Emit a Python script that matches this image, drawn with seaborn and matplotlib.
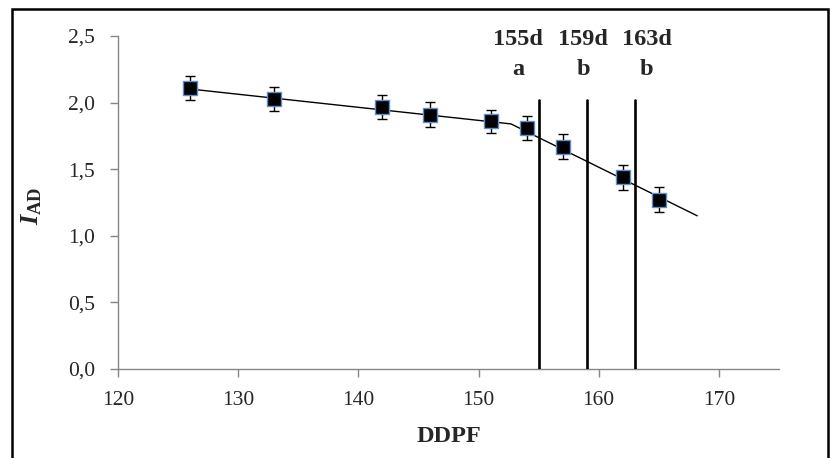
import matplotlib
matplotlib.use("Agg")
import matplotlib.pyplot as plt
import seaborn as sns
import pandas as pd
from matplotlib.patches import Rectangle

# ---- data ----
ddpf = [126, 133, 142, 146, 151, 154, 157, 162, 165]
iad = [2.11, 2.03, 1.97, 1.91, 1.86, 1.81, 1.67, 1.44, 1.27]
iad_err = [0.09, 0.09, 0.09, 0.095, 0.085, 0.09, 0.095, 0.095, 0.095]
trend_x = [126.2, 152.7, 168.2]
trend_y = [2.10, 1.84, 1.15]
vline_x = [155, 159, 163]
vline_top = 2.02
vline_days = ["155d", "159d", "163d"]
vline_groups = ["a", "b", "b"]
xticks = [120, 130, 140, 150, 160, 170]
yticks = [0.0, 0.5, 1.0, 1.5, 2.0, 2.5]
ytick_labels = ["0,0", "0,5", "1,0", "1,5", "2,0", "2,5"]

sns.set_theme(style="white")
plt.rcParams["font.family"] = ["Liberation Serif", "DejaVu Serif"]
plt.rcParams["mathtext.fontset"] = "custom"
plt.rcParams["mathtext.it"] = "Liberation Serif:italic:bold"
plt.rcParams["mathtext.bf"] = "Liberation Serif:bold"
plt.rcParams["mathtext.rm"] = "Liberation Serif"

fig = plt.figure(figsize=(8.34, 4.58), dpi=100)
ax = fig.add_axes([118/834, 1-369/458, (779-118)/834, (369-36)/458])

df = pd.DataFrame({"DDPF": ddpf, "IAD": iad})
trend = pd.DataFrame({"x": trend_x, "y": trend_y})

sns.lineplot(data=trend, x="x", y="y", ax=ax, color="black", linewidth=1.0,
             estimator=None, sort=False, zorder=2)
for xv in vline_x:
    ax.plot([xv, xv], [0, vline_top], color="black", linewidth=1.9, zorder=3)
ax.errorbar(ddpf, iad, yerr=iad_err, fmt="none", ecolor="black",
            elinewidth=1.0, capsize=3.3, capthick=1.0, zorder=4)
sns.scatterplot(data=df, x="DDPF", y="IAD", ax=ax, marker="s", s=90,
                color="black", edgecolor="#5b8fd0", linewidth=1.0, zorder=5)

label_x = [153.3, 158.7, 164.0]
for lx, d, g in zip(label_x, vline_days, vline_groups):
    ax.text(lx, 2.47, d, ha="center", va="center", fontsize=17.5,
            fontweight="bold")
    ax.text(lx, 2.25, g, ha="center", va="center", fontsize=17.5,
            fontweight="bold")

ax.set_xlim(120, 175)
ax.set_ylim(0, 2.5)
ax.set_xticks(xticks)
ax.set_xticklabels([str(t) for t in xticks], fontsize=15.5)
ax.set_yticks(yticks)
ax.set_yticklabels(ytick_labels, fontsize=15.5)
ax.set_xlabel("DDPF", fontsize=17.5, fontweight="bold")
ax.set_ylabel(r"$\mathit{I}_{\mathbf{AD}}$", fontsize=19)
ax.xaxis.set_label_coords(0.5, (369-436)/333)
ax.xaxis.label.set_va("center")
ax.yaxis.set_label_coords(-(118-32)/661, (369-206)/333)
ax.yaxis.label.set_va("center")

for s in ["top", "right"]:
    ax.spines[s].set_visible(False)
for s in ["left", "bottom"]:
    ax.spines[s].set_color("#868686")
    ax.spines[s].set_linewidth(1.0)
ax.tick_params(axis="both", direction="out", length=5.5, width=1.0,
               color="#868686", left=True, bottom=True)
ax.tick_params(axis="y", pad=11)
ax.tick_params(axis="x", pad=10)

fig.patches.append(Rectangle((11.5/834, -0.02), (828-11.5)/834, 1.02-9/458,
                             transform=fig.transFigure, fill=False,
                             edgecolor="black", linewidth=1.8))

fig.savefig("out.png", dpi=100)
